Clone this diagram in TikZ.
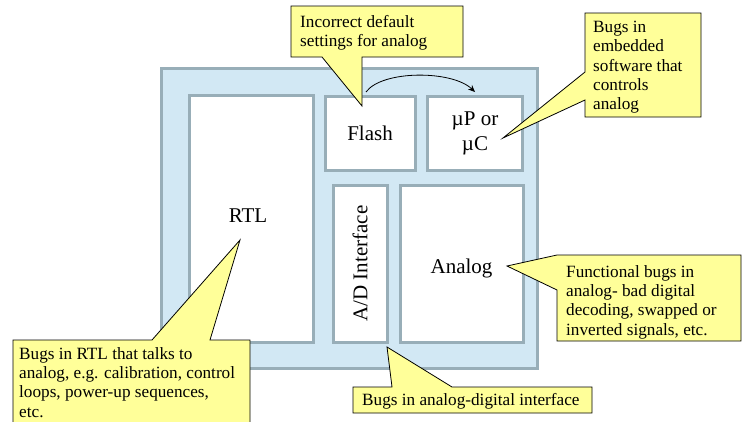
\documentclass[tikz,border=0pt]{standalone}
\usepackage{fontspec}
\setmainfont{Liberation Serif}
\usetikzlibrary{arrows.meta}
\definecolor{panelblue}{HTML}{D2E8F4}
\definecolor{paneledge}{HTML}{98AEB8}
\definecolor{noteyellow}{HTML}{FFFF99}
\tikzset{
  blockbox/.style={draw=paneledge, line width=3pt, fill=white, inner sep=0pt,
    font=\fontsize{21}{25}\selectfont},
  notebg/.style={draw=black, line width=0.8pt, fill=noteyellow, line join=miter},
  notetext/.style={anchor=north west, inner sep=0pt, align=left,
    font=\fontsize{17.2}{19.3}\selectfont}
}
\begin{document}
\begin{tikzpicture}[x=1pt,y=-1pt]
\useasboundingbox (0,0) rectangle (743,421);
\clip (0,0) rectangle (743,421);

% chip outline
\draw[draw=paneledge, line width=3pt, fill=panelblue] (161,68) rectangle (537,368);

% functional blocks
\node[blockbox, minimum width=124pt, minimum height=247pt] (rtl) at (251,218.5) {};
\node[font=\fontsize{21}{25}\selectfont] at (248,216) {RTL};
\node[blockbox, minimum width=90pt, minimum height=74pt] (flash) at (370,133) {Flash};
\node[blockbox, minimum width=95pt, minimum height=74pt, align=center] (mpu) at (475,133) {µP or\\µC};
\node[blockbox, minimum width=54pt, minimum height=157pt] (ad) at (360,263.5) {\rotatebox{90}{A/D Interface}};
\node[blockbox, minimum width=123pt, minimum height=157pt] (analog) at (461.5,263.5) {};
\node[font=\fontsize{21}{25}\selectfont] at (461.5,268) {Analog};

% flash configures the processor
\coordinate (arrA) at (366,92);
\coordinate (arrB) at (475,92);
\draw[line width=0.8pt, -{Stealth[length=7pt,width=6pt]}] (arrA) .. controls (382,70) and (452,70) .. (arrB);

% callouts
\draw[notebg] (291,6) -- (463,6) -- (463,57) -- (362,57) -- (362,106) -- (322,57) -- (291,57) -- cycle;
\node[notetext] (n1) at (300,15) {Incorrect default\\settings for analog};

\draw[notebg] (585,13) -- (701,13) -- (701,117) -- (585,117) -- (585,100) -- (503,138) -- (585,72) -- cycle;
\node[notetext] (n2) at (593,21) {Bugs in\\embedded\\software that\\controls\\analog};

\draw[notebg] (557,255) -- (741,255) -- (741,341) -- (557,341) -- (557,290) -- (507,266) -- cycle;
\node[notetext] (n3) at (566,265) {Functional bugs in\\analog- bad digital\\decoding, swapped or\\inverted signals, etc.};

\draw[notebg] (353,387) -- (392,387) -- (387,347) -- (452,387) -- (592,387) -- (592,413) -- (353,413) -- cycle;
\node[notetext] (n4) at (362,393) {Bugs in analog-digital interface};

\draw[notebg] (13,340) -- (152,340) -- (240,240) -- (210,340) -- (250,340) -- (250,430) -- (13,430) -- cycle;
\node[notetext] (n5) at (19,347) {Bugs in RTL that talks to\\analog, e.g. calibration, control\\loops, power-up sequences,\\etc.};
\end{tikzpicture}
\end{document}
